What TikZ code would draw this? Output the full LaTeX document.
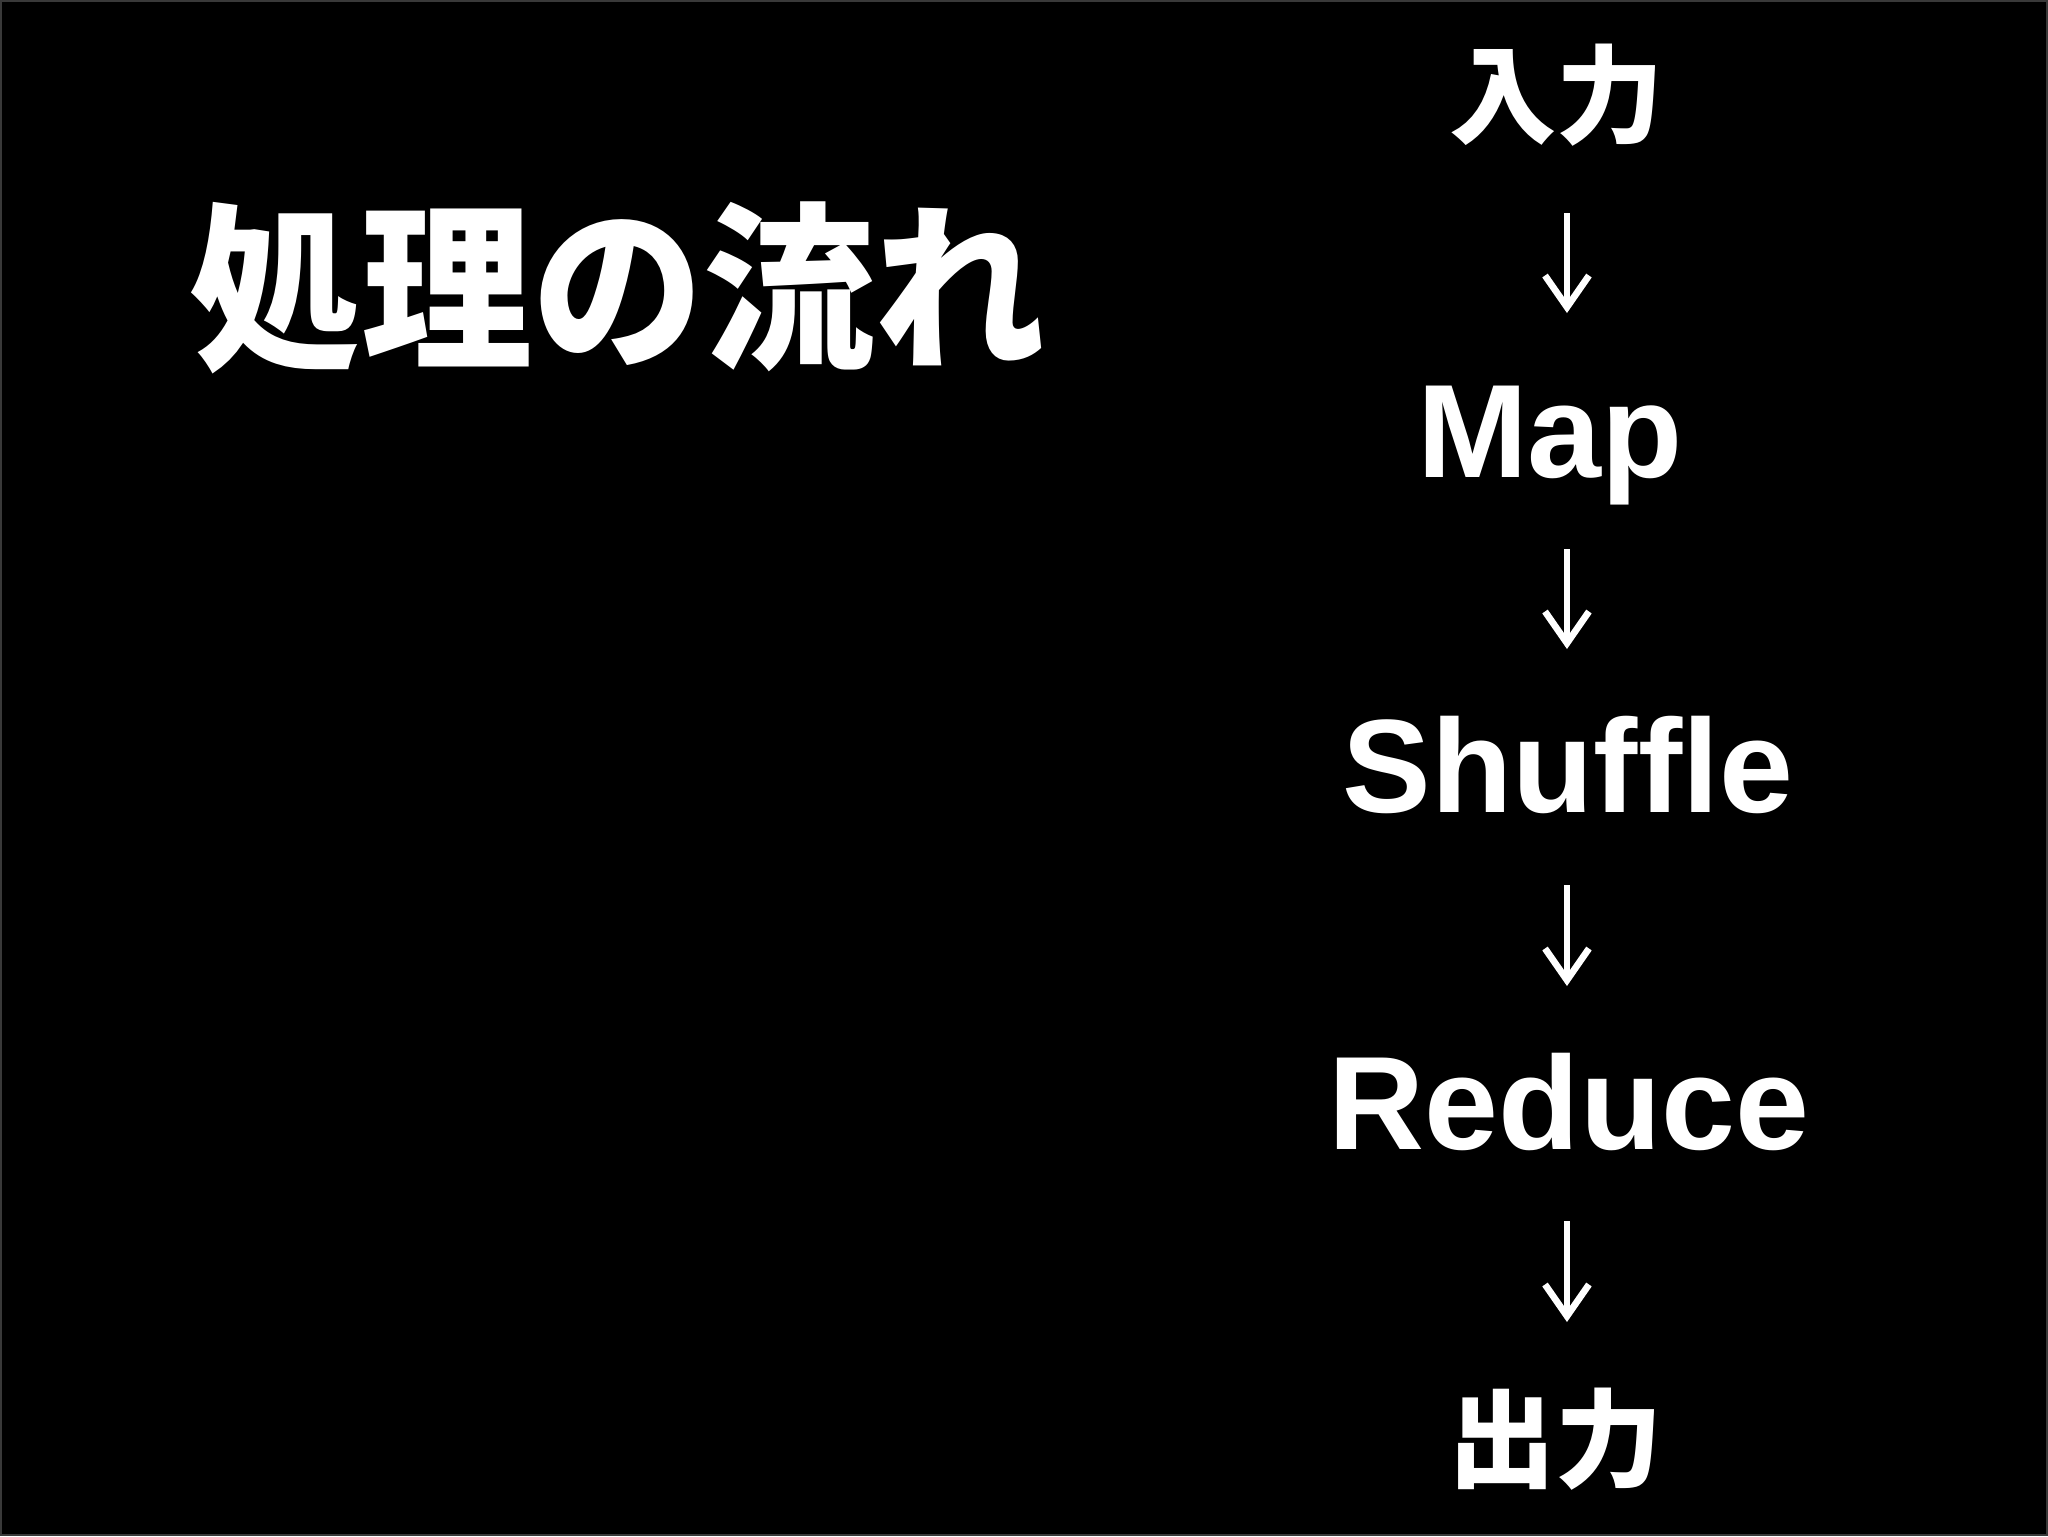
\documentclass[tikz,border=0pt]{standalone}
\usepackage{fontspec}
\setmainfont{Liberation Sans}
\newfontfamily\cjk{Noto Sans CJK JP}
\usetikzlibrary{arrows.meta}
\tikzset{
  lat/.style={text=white, font=\bfseries\fontsize{37.8}{40}\selectfont, anchor=base, inner sep=0pt},
  jp/.style={text=white, font=\cjk\bfseries\fontsize{30.5}{32}\selectfont, anchor=center, inner sep=0pt},
  ttl/.style={text=white, font=\cjk\bfseries\fontsize{48.7}{50}\selectfont, anchor=center, inner sep=0pt, yscale=1.05},
  arr/.style={draw=white, line width=1.9pt, -{Straight Barb[length=9pt, width=12.5pt, line width=1.9pt]}},
}
\begin{document}
\begin{tikzpicture}[x=0.01cm, y=-0.01cm]
\fill[black] (0,0) rectangle (2048,1536);
\draw[gray!45!black, line width=0.6pt] (1,1) rectangle (2047,1535);
\useasboundingbox (0,0) rectangle (2048,1536);

\node[ttl] (title) at (618,288) {処理の流れ};

\node[jp] (in) at (1557,95) {入力};
\node[lat] (map) at (1550,477) {Map};
\node[lat] (shuffle) at (1568,812) {Shuffle};
\node[lat] (reduce) at (1569,1149) {Reduce};
\node[jp] (out) at (1556,1439) {出力};

\draw[arr] ([shift={(10,118)}]in.center) -- ([shift={(17,-164)}]map.base);
\draw[arr] ([shift={(17,72)}]map.base) -- ([shift={(-1,-163)}]shuffle.base);
\draw[arr] ([shift={(-1,73)}]shuffle.base) -- ([shift={(-2,-163)}]reduce.base);
\draw[arr] ([shift={(-2,72)}]reduce.base) -- ([shift={(11,-117)}]out.center);
\end{tikzpicture}
\end{document}
